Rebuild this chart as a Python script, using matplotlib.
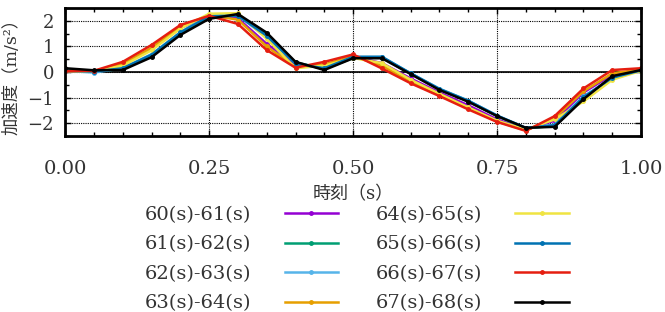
import numpy as np
import matplotlib
matplotlib.use("Agg")
import matplotlib.pyplot as plt
from matplotlib.ticker import MultipleLocator

plt.rcParams['font.family'] = ['DejaVu Serif', 'Noto Sans CJK JP']
plt.rcParams['axes.unicode_minus'] = True

t = [0.00, 0.05, 0.10, 0.15, 0.20, 0.25, 0.30, 0.35, 0.40, 0.45, 0.50,
     0.55, 0.60, 0.65, 0.70, 0.75, 0.80, 0.85, 0.90, 0.95, 1.00]

labels = ["60(s)-61(s)", "61(s)-62(s)", "62(s)-63(s)", "63(s)-64(s)",
          "64(s)-65(s)", "65(s)-66(s)", "66(s)-67(s)", "67(s)-68(s)"]

s60 = [0.03, 0.04, 0.28, 0.90, 1.72, 2.20, 2.10, 1.10, 0.30, 0.22, 0.60,
       0.35, -0.25, -0.80, -1.30, -1.85, -2.25, -1.90, -0.80, -0.10, 0.10]
s61 = [0.08, 0.02, 0.12, 0.62, 1.50, 2.15, 2.25, 1.48, 0.38, 0.12, 0.55,
       0.56, -0.06, -0.68, -1.14, -1.72, -2.20, -2.10, -1.00, -0.20, 0.06]
s62 = [0.05, -0.02, 0.15, 0.70, 1.55, 2.25, 2.22, 1.35, 0.35, 0.15, 0.58,
       0.58, -0.05, -0.65, -1.12, -1.70, -2.20, -2.05, -0.95, -0.25, 0.08]
s63 = [0.04, 0.04, 0.32, 0.95, 1.78, 2.22, 2.05, 1.00, 0.20, 0.30, 0.62,
       0.25, -0.38, -0.90, -1.42, -1.93, -2.28, -1.80, -0.75, -0.05, 0.10]
s64 = [0.04, 0.03, 0.25, 0.85, 1.70, 2.28, 2.30, 1.30, 0.15, 0.25, 0.55,
       0.35, -0.30, -0.85, -1.38, -1.90, -2.25, -1.85, -1.15, -0.30, 0.05]
s65 = [0.06, 0.02, 0.15, 0.68, 1.55, 2.18, 2.20, 1.42, 0.32, 0.15, 0.60,
       0.60, -0.05, -0.66, -1.12, -1.70, -2.18, -2.08, -0.98, -0.22, 0.07]
s66 = [0.04, 0.05, 0.40, 1.06, 1.84, 2.20, 1.88, 0.86, 0.17, 0.40, 0.69,
       0.14, -0.44, -0.94, -1.46, -1.95, -2.30, -1.72, -0.64, 0.08, 0.15]
s67 = [0.15, 0.07, 0.08, 0.58, 1.45, 2.08, 2.27, 1.54, 0.40, 0.08, 0.54,
       0.54, -0.08, -0.70, -1.16, -1.72, -2.18, -2.14, -1.06, -0.16, 0.08]

series = [s60, s61, s62, s63, s64, s65, s66, s67]
colors = ["#9400d3", "#009e73", "#56b4e9", "#e69f00",
          "#f0e442", "#0072b2", "#e51e10", "#000000"]

fig = plt.figure(figsize=(6.65, 3.12), dpi=100)
ax = fig.add_axes([0.098, 0.564, 0.866, 0.410])

for ys, c, lab in zip(series, colors, labels):
    ax.plot(t, ys, color=c, lw=1.8, marker='o', ms=2.5, label=lab)

ax.axhline(0, color='black', lw=1.2, zorder=1)
ax.set_xlim(0, 1)
ax.set_ylim(-2.5, 2.5)
ax.xaxis.set_major_locator(MultipleLocator(0.25))
ax.xaxis.set_minor_locator(MultipleLocator(0.05))
ax.yaxis.set_major_locator(MultipleLocator(1))
ax.yaxis.set_minor_locator(MultipleLocator(0.5))
ax.xaxis.set_major_formatter(lambda v, p: f"{v:.2f}")
ax.yaxis.set_major_formatter(lambda v, p: f"{int(round(v))}".replace('-', '\u2212'))
ax.grid(True, which='major', color='black', ls=(0, (1, 1)), lw=0.8)
ax.tick_params(which='both', direction='in', top=True, right=True,
               labelcolor='#333333')
ax.tick_params(axis='x', labelsize=14, pad=17.5)
ax.tick_params(axis='y', labelsize=13, pad=8)
ax.tick_params(which='major', length=4, width=1)
ax.tick_params(which='minor', length=3, width=1)
for sp in ax.spines.values():
    sp.set_linewidth(2)

ax.set_xlabel("時刻（s）", fontsize=13, labelpad=5, color='#333333')
ax.set_ylabel("加速度（m/s²）", fontsize=12.5, color='#333333')
ax.yaxis.set_label_coords(-0.077, 0.5)

handles, labs = ax.get_legend_handles_labels()
leg = fig.legend(handles, labs, loc='upper left',
                 bbox_to_anchor=(145 / 665, 1 - 206 / 312),
                 ncol=2, frameon=False, markerfirst=False, fontsize=14,
                 handlelength=2.75, columnspacing=1.95, labelspacing=0.59,
                 handletextpad=1.7, borderpad=0, borderaxespad=0)
for txt in leg.get_texts():
    txt.set_color('#333333')

fig.savefig("out.png", dpi=100)
